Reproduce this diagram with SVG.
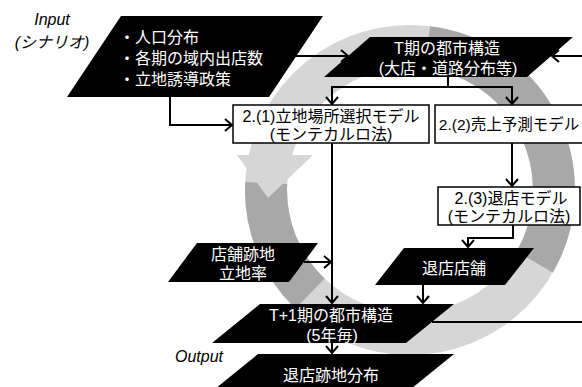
<svg xmlns="http://www.w3.org/2000/svg" width="582" height="387" viewBox="0 0 582 387">
<style>
.t{font-family:"Liberation Sans","Noto Sans CJK JP",sans-serif;font-size:16px;}
.w{fill:#fff;}
.k{fill:#000;}
.it{font-style:italic;}
.para{fill:#000;}
.box{fill:#fff;stroke:#000;stroke-width:1.5;}
.con{fill:none;stroke:#000;stroke-width:2;marker-end:url(#arr);}
.ringL{fill:none;stroke:#d6d6d6;stroke-width:42;}
.ringD{fill:none;stroke:#a8a8a8;stroke-width:42;}
</style>
<defs>
<marker id="arr" viewBox="0 0 10 14" refX="8" refY="7" markerWidth="10" markerHeight="14" markerUnits="userSpaceOnUse" orient="auto">
<path d="M1,1 L8,7 L1,13" fill="none" stroke="#000" stroke-width="2"/>
</marker>
</defs>

<g id="cycle">
<circle class="ringL" cx="410" cy="190" r="144"/>
<path class="ringD" d="M266.2,183 A144,144 0 0 0 310,293.6"/>
<path class="ringD" d="M427.5,47.1 A144,144 0 0 1 534.7,262"/>
<polygon points="237,155 313,155 268,198" fill="#d6d6d6"/>
</g>

<g id="labels">
<text class="t k it" x="52" y="25" text-anchor="middle">Input</text>
<text class="t k it" x="52" y="48" text-anchor="middle">(シナリオ)</text>
<text class="t k it" x="199" y="362" text-anchor="middle">Output</text>
</g>

<g id="input">
<polygon class="para" points="121,16 323,16 269,97 67,97"/>
<text class="t w" x="119" y="43">・人口分布</text>
<text class="t w" x="119" y="64">・各期の域内出店数</text>
<text class="t w" x="119" y="85">・立地誘導政策</text>
</g>

<g id="t-structure">
<polygon class="para" points="370,37 573,37 527,77 324,77"/>
<text class="t w" x="447" y="53.5" text-anchor="middle">T期の都市構造</text>
<text class="t w" x="448" y="73.5" text-anchor="middle">(大店・道路分布等)</text>
</g>

<g id="model1">
<rect class="box" x="233" y="105" width="196" height="38"/>
<text class="t k" x="331" y="121.5" text-anchor="middle">2.(1)立地場所選択モデル</text>
<text class="t k" x="331" y="139.5" text-anchor="middle">(モンテカルロ法)</text>
</g>

<g id="model2">
<rect class="box" x="435" y="105" width="160" height="38"/>
<text class="t k" x="509" y="130" text-anchor="middle" style="font-size:15.5px">2.(2)売上予測モデル</text>
</g>

<g id="model3">
<rect class="box" x="438" y="187" width="142" height="38"/>
<text class="t k" x="511" y="203.5" text-anchor="middle">2.(3)退店モデル</text>
<text class="t k" x="509" y="222" text-anchor="middle">(モンテカルロ法)</text>
</g>

<g id="vacancy-rate">
<polygon class="para" points="197,243 318,243 289,282 168,282"/>
<text class="t w" x="243" y="260" text-anchor="middle">店舗跡地</text>
<text class="t w" x="243" y="279" text-anchor="middle">立地率</text>
</g>

<g id="closed-stores">
<polygon class="para" points="404,248 534,248 505,285 375,285"/>
<text class="t w" x="454" y="274" text-anchor="middle">退店店舗</text>
</g>

<g id="t1-structure">
<polygon class="para" points="260,304 454,304 406,343 212,343"/>
<text class="t w" x="331" y="321" text-anchor="middle">T+1期の都市構造</text>
<text class="t w" x="332" y="341" text-anchor="middle">(5年毎)</text>
</g>

<g id="output">
<polygon class="para" points="258,354 454,354 406,393 210,393"/>
<text class="t w" x="331" y="381" text-anchor="middle">退店跡地分布</text>
</g>

<g id="connectors">
<path class="con" d="M296,56 H348"/>
<path class="con" d="M170,97 V125 H232"/>
<path class="con" d="M448,77 V87 H332 V104"/>
<path class="con" d="M448,87 H512 V104"/>
<path class="con" d="M512,143 V186"/>
<path class="con" d="M513,225 V238 H468 V247"/>
<path class="con" d="M332,143 V303"/>
<path class="con" d="M304,262 H331"/>
<path class="con" d="M423,285 V303"/>
<path class="con" d="M332,343 V353"/>
<path class="con" d="M432,322 H590 V56 H552"/>
</g>
</svg>
